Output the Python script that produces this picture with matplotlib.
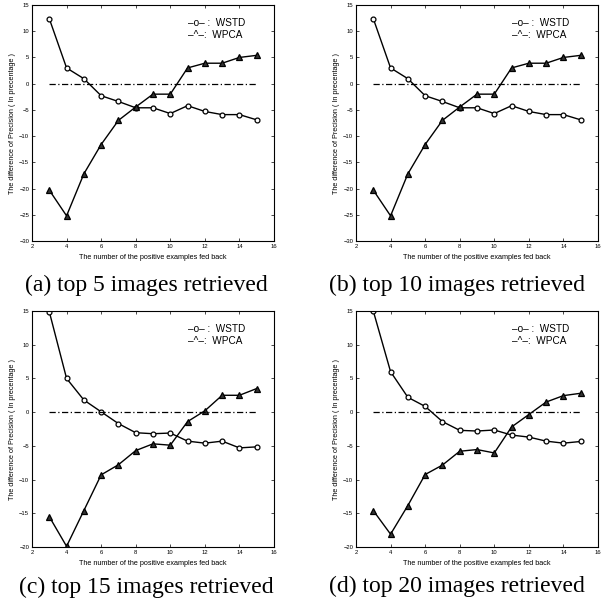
import matplotlib
matplotlib.use("Agg")
import matplotlib.pyplot as plt

x_fb = [3, 4, 5, 6, 7, 8, 9, 10, 11, 12, 13, 14, 15]

wstd_a = [12.4, 3.0, 0.95, -2.3, -3.4, -4.6, -4.6, -5.7, -4.2, -5.3, -5.9, -5.9, -6.9]
wpca_a = [-20.3, -25.2, -17.2, -11.6, -7.0, -4.45, -2.0, -2.0, 3.0, 3.9, 3.9, 5.0, 5.4]
wstd_b = [12.4, 3.0, 0.95, -2.3, -3.4, -4.6, -4.6, -5.7, -4.2, -5.3, -5.9, -5.9, -6.9]
wpca_b = [-20.3, -25.2, -17.2, -11.6, -7.0, -4.45, -2.0, -2.0, 3.0, 3.9, 3.9, 5.0, 5.4]
wstd_c = [14.9, 5.0, 1.8, 0.05, -1.7, -3.05, -3.2, -3.1, -4.3, -4.6, -4.3, -5.3, -5.15]
wpca_c = [-15.5, -19.9, -14.6, -9.3, -7.8, -5.7, -4.7, -4.9, -1.4, 0.2, 2.5, 2.5, 3.5]
wstd_d = [15.0, 6.0, 2.2, 0.85, -1.4, -2.7, -2.8, -2.65, -3.4, -3.7, -4.3, -4.6, -4.35]
wpca_d = [-14.6, -18.1, -13.85, -9.25, -7.85, -5.8, -5.55, -6.05, -2.2, -0.35, 1.5, 2.45, 2.8]

captions = ["(a) top 5 images retrieved", "(b) top 10 images retrieved",
            "(c) top 15 images retrieved", "(d) top 20 images retrieved"]
ylims = [(-30, 15), (-30, 15), (-20, 15), (-20, 15)]
series = [(wstd_a, wpca_a), (wstd_b, wpca_b), (wstd_c, wpca_c), (wstd_d, wpca_d)]

W, H = 610, 613
fig = plt.figure(figsize=(W / 100, H / 100), dpi=100)

# axes boxes in pixels: left, top, right, bottom
boxes = [(32, 5, 274, 241), (356, 5, 598, 241),
         (32, 311, 274, 547), (356, 311, 598, 547)]
cap_pos = [(146, 285), (457, 285), (146, 587), (457, 586)]

sans = ["Liberation Sans", "DejaVu Sans"]
serif = ["Liberation Serif", "DejaVu Serif"]

for i in range(4):
    l, t, r, b = boxes[i]
    ax = fig.add_axes([l / W, 1 - b / H, (r - l) / W, (b - t) / H])
    wstd, wpca = series[i]
    ax.plot(x_fb, wstd, "-o", color="black", lw=1.0, ms=3.5,
            mfc="white", mec="black", mew=0.9)
    ax.plot(x_fb, wpca, "-^", color="black", lw=1.0, ms=4,
            mfc="#333333", mec="black", mew=0.9)
    ax.plot([x_fb[0], x_fb[-1]], [0, 0], color="black", lw=0.9, ls="-.",
            dashes=(5, 2, 1, 2))
    ax.set_xlim(2, 16)
    ax.set_ylim(*ylims[i])
    ax.set_xticks(range(2, 17, 2))
    ax.set_yticks(range(ylims[i][0], ylims[i][1] + 1, 5))
    ax.tick_params(direction="in", length=2.5, width=0.5, labelsize=4.2,
                   top=True, right=True, pad=2)
    for lab in ax.get_xticklabels() + ax.get_yticklabels():
        lab.set_family(sans)
    for s in ax.spines.values():
        s.set_linewidth(0.8)
    ax.set_xlabel("The number of the positive examples fed back",
                  fontsize=5.2, family=sans, labelpad=4)
    ax.set_ylabel("The difference of Precision ( In precentage )",
                  fontsize=5.2, family=sans, labelpad=2)
    ax.text(0.645, 0.924, "\u2013o\u2013 :  WSTD", transform=ax.transAxes,
            fontsize=7.2, family=sans, ha="left", va="center")
    ax.text(0.645, 0.872, "\u2013^\u2013:  WPCA", transform=ax.transAxes,
            fontsize=7.2, family=sans, ha="left", va="center")
    cx, cy = cap_pos[i]
    fig.text(cx / W, 1 - cy / H, captions[i], fontsize=17, family=serif,
             ha="center", va="center")

fig.savefig("out.png", dpi=100)
